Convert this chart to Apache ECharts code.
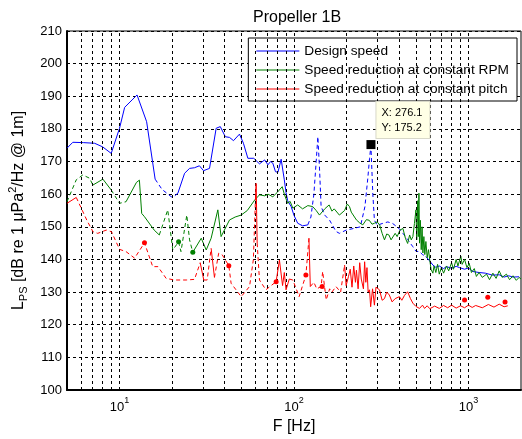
<!DOCTYPE html>
<html style="height: 100%">
    <head>
        <meta charset="utf-8">
    </head>
    <body style="height: 100%; margin: 0; background: #fff">
        <div id="container" style="width: 522px; height: 439px"></div>
        <script type="text/javascript" src="https://cdn.jsdelivr.net/npm/echarts@6/dist/echarts.min.js"></script>
        <script type="text/javascript">
    // [F Hz, L dB]
    var designSpeed = [
        [5,174.1],[5.4,175.9],[6.2,175.8],[7.2,175.6],[8.0,174.5],[8.96,172.5],[10,180.2],[10.7,186.6],
        [12.6,190.4],[14.3,182.2],[16,164.6],[17.5,161.5],[19.8,159.2],[20.6,159.4],[21.6,160.3],[23.6,166.4],
        [25.2,167.9],[26.9,168.1],[28.7,168.7],[30.3,167.2],[32.8,167.9],[35.8,180.2],[37.8,180.7],[40.4,177.6],
        [42.7,177.4],[45,176.4],[48.7,178.4],[51.3,175.6],[54.4,171],[58.8,171],[63.4,169.3],[67.9,170.5],
        [70.9,169],[73.4,170],[75.6,169.5],[78.3,166.9],[80.9,166.7],[84.4,170.7],[88,164.4],[90,160.5],
        [92,158],[96.3,156.2],[100,153.5],[105,151.1],[112,150.3],[120,150.6],[125,153],[130,160],[134,170],
        [137,177.6],[140,168],[143,156.2],[150,153.6],[160,152],[174,148.6],[182,148],[199,149],[220,149.5],
        [240,150],[255,156.2],[265,165],[271,171],[276,174.8],[283,160],[289,152],[300,150.5],[320,151],
        [345,151.5],[368,151],[400,149.5],[421,148],[450,146],[480,143.9],[500,142.5],[524,142.4],[545,141.5],
        [570,140.9],[600,139.5],[625,138.3],[650,137.6],[680,138],[720,137.2],[748,137.8],[800,137.3],
        [850,137.9],[889,137.5],[950,137],[1000,137.4],[1060,136.3],[1150,136],[1250,135.8],[1370,135.2],
        [1500,135.3],[1600,134.6],[1700,135],[1800,134.6],[1950,134.7]
    ];
    var designDashed = [[16.5, 21.6], [120, 560]];

    var rpmReduction = [
        [5,157.7],[5.65,164.4],[6.16,165.9],[6.73,164.9],[7.04,162.8],[8.03,164.6],[8.96,161.3],[10,157.2],
        [10.9,157.7],[12.5,163.6],[13.0,164.3],[13.4,154.1],[13.9,153.1],[15.8,149],[16.9,147.5],[18.9,155.2],
        [20.2,142.9],[21.8,145.4],[22.5,142.4],[24.3,153.6],[25.2,146],[26.3,142.2],[29.4,146.5],[31.4,142.9],
        [33.5,146.5],[36.6,155.2],[38.2,147],[42.7,152.1],[46,153],[49.8,153.6],[54,155],[59.5,158.2],
        [63.4,159.8],[68,159.5],[71,160],[75.6,159.2],[80,160.5],[85.6,162.3],[88,160],[92,157.2],[95,157.8],
        [98.5,155.7],[105,156.7],[112,155.5],[120,156.5],[128,156.2],[134,155],[140,153.6],[150,155.5],
        [159,156.7],[165,154.8],[170,155.5],[182,153.6],[195,155],[202,157],[208,156.2],[213,154.5],[218,154],
        [228,152.1],[238,151.2],[248,150.6],[260,152.2],[270,152],[280,150.8],[289,151.1],[300,151.5],[310,150.5],
        [320,148],[330,146],[340,147.8],[350,147.5],[360,146],[368,146.5],[380,148],[390,147],[405,149],
        [421,149.5],[435,146.5],[448,144.9],[460,147.5],[470,146],[480,147],[490,151],[500,155.2],[505,146],
        [512,158],[516,147],[520,160.3],[524,145],[530,152],[536,143],[542,150],[548,142],[555,147],[562,141.5],
        [570,145.5],[580,140.5],[590,143],[600,139.8],[610,137],[625,135.8],[635,138],[650,136],[665,138.5],
        [680,135.5],[700,137.5],[720,135.8],[748,138],[770,136.5],[800,139],[820,137],[850,140],[870,138],
        [904,141],[920,138.5],[950,140],[980,137.5],[1010,138.8],[1040,136],[1080,137.2],[1110,134.8],
        [1150,136],[1200,134.5],[1270,135.5],[1320,133.8],[1380,135.8],[1440,134.2],[1500,136.5],[1560,134.5],
        [1650,135.5],[1720,133.8],[1800,135],[1880,133.6],[1950,134.5],[2000,134]
    ];
    var rpmDashed = [[5, 7.04], [9.1, 10.8], [17.0, 26.3]];

    var pitchReduction = [
        [5,157.2],[5.65,159],[6.0,156],[6.5,152],[7.04,148.5],[7.5,148],[8.4,149],[9.0,148.5],[10,143.1],
        [10.9,142.4],[12.2,140.4],[13.9,145.1],[15.5,137.8],[16.6,137.8],[18.5,134.2],[20.7,133.7],[24.1,133.7],
        [26.9,133.9],[29,139],[30.4,133.7],[31.8,133.7],[33.5,143.4],[35,134.5],[37,141.9],[38.8,141.4],
        [42.3,138.1],[43.6,132.7],[49.8,128.6],[55.6,131.7],[58.5,140],[60.1,158.2],[60.7,163.3],[61.5,145],
        [63.4,133.7],[69,130.7],[74,132],[79,133.2],[82.5,139.8],[84,140.4],[86,132],[88,136],[90,130.7],
        [94,134],[98.5,133.7],[103,131],[107,128.6],[112,132],[117,135.2],[121.8,146.5],[124,131.7],[130,133],
        [135,131],[143,131.7],[146,136.3],[153,127.6],[160,131],[165,130],[174,131.7],[185,130],[195,138.3],
        [199,132],[205,134.7],[210,137],[215,131.5],[220,138],[225,133],[228,136.7],[233,131],[238,139],
        [243,134],[250,131],[254,139.3],[258,133],[262,137.5],[266,130],[271,130.7],[275,125.5],[282,131],
        [289,126],[295,131.5],[309,130.7],[320,127.5],[330,128],[340,130],[352,129.1],[365,127],[380,128],
        [402,128.6],[415,127.5],[430,129],[448,130.1],[465,128],[480,126.6],[500,125.6],[524,125],[545,126],
        [560,125],[580,125.8],[600,124.9],[640,125.7],[680,125],[720,125.9],[760,125.2],[800,126],[850,125.1],
        [900,125.8],[950,125.2],[1000,126],[1050,125.3],[1100,125.9],[1200,125.2],[1300,126.2],[1400,125.4],
        [1500,126.3],[1600,125.5],[1680,125.8]
    ];
    var pitchDashed = [[5.65, 28.5], [30.2, 33], [35.5, 59.8], [62, 80.5], [96, 120], [125, 190]];

    var rpmDots = [[21.8,145.4],[26.3,142.2]];
    var pitchDots = [[13.9,145.1],[42.3,138.1],[79,133.2],[117,135.2],[145,131.7],[950,127.6],[1290,128.4],[1620,127]];

    var dataTip = [[276.1, 175.2]];

    var xGridValues = [6,7,8,9,10,20,30,40,50,60,70,80,90,100,200,300,400,500,600,700,800,900,1000];
    var seriesNames = ['Design speed', 'Speed reduction at constant RPM', 'Speed reduction at constant pitch'];
    var seriesColors = ['#0000ff', '#008000', '#ff0000'];

    var font = 'Liberation Sans, Arial, sans-serif';

    function buildLine(name, color, pts, dashRanges, z) {
        function isDash(a, b) {
            var m = Math.sqrt(a * b);
            return dashRanges.some(function (r) { return m > r[0] && m < r[1]; });
        }
        var out = [];
        var cur = [pts[0]];
        var curDash = isDash(pts[0][0], pts[1][0]);
        function flush() {
            out.push({
                name: name,
                type: 'line',
                data: cur,
                symbol: 'none',
                z: z,
                animation: false,
                silent: true,
                lineStyle: { color: color, width: 1, type: curDash ? [4, 3] : 'solid' },
                itemStyle: { color: color }
            });
        }
        for (var i = 1; i < pts.length; i++) {
            var d = isDash(pts[i - 1][0], pts[i][0]);
            if (d !== curDash) {
                flush();
                cur = [pts[i - 1]];
                curDash = d;
            }
            cur.push(pts[i]);
        }
        flush();
        return out;
    }

    var dom = document.getElementById("container");
    var myChart = echarts.init(dom, null, { renderer: 'canvas' });

    var series = [{
        name: 'grid',
        type: 'line',
        data: [],
        z: 1,
        silent: true,
        animation: false,
        markLine: {
            silent: true,
            animation: false,
            symbol: ['none', 'none'],
            label: { show: false },
            lineStyle: { color: '#000', width: 1, type: [3, 3] },
            data: xGridValues.map(function (v) { return { xAxis: v }; })
        }
    }];
    series = series.concat(buildLine(seriesNames[0], seriesColors[0], designSpeed, designDashed, 3));
    series = series.concat(buildLine(seriesNames[1], seriesColors[1], rpmReduction, rpmDashed, 4));
    series = series.concat(buildLine(seriesNames[2], seriesColors[2], pitchReduction, pitchDashed, 5));
    series.push({
        name: 'dotsG', type: 'scatter', data: rpmDots, symbolSize: 5, z: 6, silent: true, animation: false,
        itemStyle: { color: seriesColors[1], opacity: 1 }
    });
    series.push({
        name: 'dotsR', type: 'scatter', data: pitchDots, symbolSize: 5, z: 6, silent: true, animation: false,
        itemStyle: { color: seriesColors[2], opacity: 1 }
    });
    series.push({
        name: 'tip', type: 'scatter', data: dataTip, symbol: 'rect', symbolSize: 9, z: 10, silent: true,
        animation: false,
        itemStyle: { color: '#000', opacity: 1 },
        label: {
            show: true,
            position: [10, -38],
            align: 'left',
            verticalAlign: 'top',
            formatter: function (p) { return 'X: ' + p.value[0] + '\nY: ' + p.value[1]; },
            fontFamily: font,
            fontSize: 11,
            lineHeight: 15,
            color: '#000',
            backgroundColor: '#ffffe6',
            borderColor: '#d8d8c8',
            borderWidth: 1,
            padding: [3, 7, 3, 5]
        }
    });

    var option = {
        backgroundColor: '#fff',
        animation: false,
        title: {
            text: 'Propeller 1B',
            left: 248,
            top: 5,
            textStyle: { fontFamily: font, fontSize: 16, fontWeight: 'normal', color: '#000' }
        },
        legend: {
            data: seriesNames.map(function (n, i) {
                return { name: n, icon: 'rect', itemStyle: { color: seriesColors[i] } };
            }),
            orient: 'vertical',
            right: 5,
            top: 38,
            backgroundColor: '#fff',
            borderColor: '#000',
            borderWidth: 1,
            borderRadius: 0,
            padding: [6, 8, 5, 8],
            itemGap: 5,
            itemWidth: 43,
            itemHeight: 1,
            selectedMode: false,
            textStyle: { fontFamily: font, fontSize: 13.7, color: '#000', lineHeight: 14 }
        },
        grid: {
            left: 67,
            right: 1,
            top: 31,
            bottom: 49,
            show: true,
            borderColor: '#000',
            borderWidth: 1,
            containLabel: false,
            outerBoundsMode: 'none'
        },
        xAxis: {
            type: 'log',
            logBase: 10,
            min: 5,
            max: 2000,
            name: 'F [Hz]',
            nameLocation: 'middle',
            nameGap: 24,
            nameTextStyle: { fontFamily: font, fontSize: 16, color: '#000' },
            axisLine: { show: true, lineStyle: { color: '#000', width: 2 } },
            axisTick: { show: false },
            splitLine: { show: false },
            axisLabel: {
                showMinLabel: false,
                showMaxLabel: false,
                margin: 6,
                formatter: function (v) {
                    return '{b|10}{e|' + Math.round(Math.log10(v)) + '}';
                },
                rich: {
                    b: { fontFamily: font, fontSize: 13, color: '#000', verticalAlign: 'bottom', lineHeight: 18 },
                    e: { fontFamily: font, fontSize: 9, color: '#000', verticalAlign: 'top', lineHeight: 18 }
                }
            }
        },
        yAxis: {
            type: 'value',
            min: 100,
            max: 210,
            interval: 10,
            name: '{n|L}{sub|PS}{n| [dB re 1 μPa}{sup|2}{n|/Hz @ 1m]}',
            nameLocation: 'middle',
            nameGap: 34,
            nameRotate: 90,
            nameTextStyle: {
                rich: {
                    n: { fontFamily: font, fontSize: 16, color: '#000', lineHeight: 22, verticalAlign: 'middle' },
                    sub: { fontFamily: font, fontSize: 11, color: '#000', lineHeight: 22, verticalAlign: 'bottom' },
                    sup: { fontFamily: font, fontSize: 11, color: '#000', lineHeight: 22, verticalAlign: 'top' }
                }
            },
            axisLine: { show: true, lineStyle: { color: '#000', width: 2 } },
            axisTick: { show: false },
            axisLabel: { fontFamily: font, fontSize: 13, color: '#000', margin: 5 },
            splitLine: { show: true, lineStyle: { color: '#000', width: 1, type: [3, 3] } }
        },
        series: series
    };

    myChart.setOption(option);
        </script>
    </body>
</html>
